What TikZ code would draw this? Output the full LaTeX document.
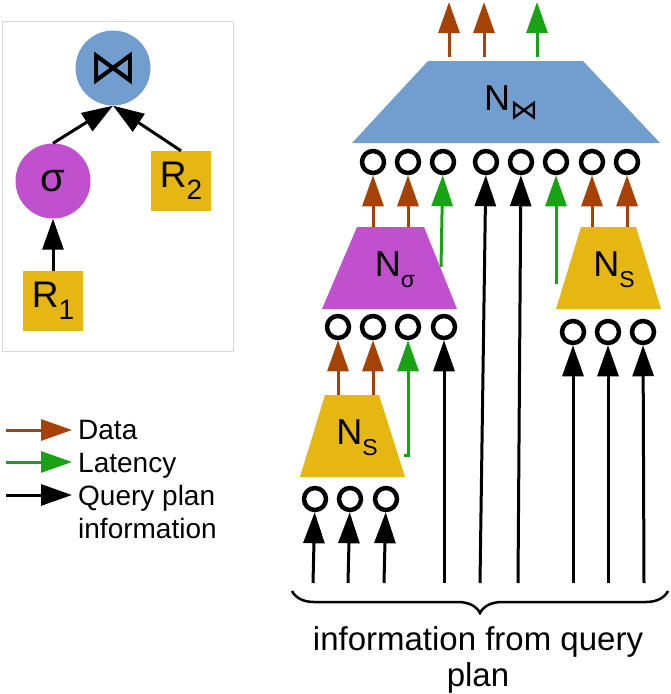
\documentclass[tikz,border=0pt]{standalone}
\usepackage{fontspec}
\setmainfont{Liberation Sans}
\newfontfamily\dvfont{DejaVu Sans}
\usetikzlibrary{arrows.meta,decorations.pathreplacing}
\definecolor{cblue}{RGB}{114,158,207}
\definecolor{cpurple}{RGB}{192,80,206}
\definecolor{cgold}{RGB}{230,182,18}
\definecolor{cdata}{RGB}{166,66,5}
\definecolor{clat}{RGB}{25,163,20}
\definecolor{cframe}{RGB}{218,218,218}
\newcommand{\lowsub}[3]{\raisebox{-#1}{\fontsize{#2}{#2}\selectfont #3}}
\begin{document}
\begin{tikzpicture}[x=1pt,y=-1pt,
  tip/.style={-{Triangle[width=21pt,length=31pt]}},
  dataarrow/.style={tip, draw=cdata, line width=3pt},
  latarrow/.style={tip, draw=clat, line width=3pt},
  qarrow/.style={tip, draw=black, line width=3pt},
  ring/.style={circle, draw=black, line width=4.5pt, minimum size=22pt, inner sep=0pt},
  opcircle/.style={circle, minimum size=75pt, inner sep=0pt},
  relbox/.style={rectangle, fill=cgold, minimum size=60pt, inner sep=0pt, font=\fontsize{37}{37}\selectfont},
  lbl/.style={inner sep=0pt, font=\fontsize{36}{36}\selectfont},
  txt/.style={inner sep=0pt, font=\fontsize{28}{33}\selectfont},
]
\useasboundingbox (0,0) rectangle (671,694);

% ---------- left panel: query plan tree ----------
\node[draw=cframe, line width=1pt, minimum width=231pt, minimum height=330pt, inner sep=0pt] (frame) at (117.5,186) {};
\node[opcircle, fill=cblue] (join) at (113,68) {\fontsize{48}{48}\selectfont\dvfont ⋈};
\node[opcircle, fill=cpurple] (sig) at (53,181) {\fontsize{40}{40}\selectfont σ};
\node[relbox] (R2) at (181,181) {R\lowsub{12pt}{28}{2}};
\node[relbox] (R1) at (53,301) {R\lowsub{12pt}{28}{1}};
\draw[qarrow] (sig.north) -- (join.south);
\draw[qarrow] (R2.north) -- (join.south);
\draw[qarrow] (R1.north) -- (sig.south);

% ---------- legend ----------
\coordinate (l1a) at (6,430);  \coordinate (l1b) at (72,430);
\coordinate (l2a) at (6,462);  \coordinate (l2b) at (72,462);
\coordinate (l3a) at (6,495);  \coordinate (l3b) at (72,495);
\draw[dataarrow] (l1a) -- (l1b);
\draw[latarrow] (l2a) -- (l2b);
\draw[qarrow] (l3a) -- (l3b);
\node[txt, anchor=base west] (tdata) at (78,439) {Data};
\node[txt, anchor=base west] (tlat) at (78,472) {Latency};
\node[txt, anchor=base west, align=left] (tq) at (78,538) {Query plan\\information};

% ---------- right panel: operator network ----------
\fill[cblue] (352,143) -- (428,61) -- (583,61) -- (660,143) -- cycle;
\coordinate (NJtop) at (506,61);
\node[lbl] (NJl) at (511,103) {N\lowsub{9pt}{28}{\dvfont ⋈}};
\fill[cpurple] (322,309) -- (357,227) -- (424,227) -- (457,309) -- cycle;
\coordinate (Nsigtop) at (390,227);
\node[lbl] (Nsigl) at (395,270) {N\lowsub{11pt}{23}{σ}};
\fill[cgold] (556,309) -- (581,227) -- (636,227) -- (661,309) -- cycle;
\coordinate (NS2top) at (608,227);
\node[lbl] (NS2l) at (614,270) {N\lowsub{11pt}{23}{S}};
\fill[cgold] (300,477) -- (325,395) -- (379,395) -- (405,477) -- cycle;
\coordinate (NS1top) at (352,395);
\node[lbl] (NS1l) at (357,438) {N\lowsub{11pt}{23}{S}};

% rings under the join operator
\foreach \i/\x in {1/373,2/408,3/443,4/486,5/521,6/556,7/592,8/627}
  \node[ring] (a\i) at (\x,162) {};
% rings under the selection operator
\foreach \i/\x in {1/338,2/373,3/408,4/444}
  \node[ring] (b\i) at (\x,327) {};
% rings under the right scan
\foreach \i/\x in {1/573,2/608,3/643}
  \node[ring] (c\i) at (\x,332) {};
% rings under the left scan
\foreach \i/\x in {1/315,2/350,3/386}
  \node[ring] (d\i) at (\x,499) {};

% outputs of the join
\coordinate (o1s) at (449,57); \coordinate (o1e) at (449,2);
\coordinate (o2s) at (484,57); \coordinate (o2e) at (484,2);
\coordinate (o3s) at (537,57); \coordinate (o3e) at (537,2);
\draw[dataarrow] (o1s) -- (o1e);
\draw[dataarrow] (o2s) -- (o2e);
\draw[latarrow] (o3s) -- (o3e);

% into the join rings
\draw[dataarrow] (a1 |- Nsigtop) -- (a1);
\draw[dataarrow] (a2 |- Nsigtop) -- (a2);
\coordinate (g1) at (441,267);
\draw[latarrow] (g1) -- (a3);
\coordinate (q4) at (480,583);
\coordinate (q5) at (518,583);
\draw[qarrow] (q4) -- (a4);
\draw[qarrow] (q5) -- (a5);
\coordinate (g2) at (556,284);
\draw[latarrow] (g2) -- (a6);
\draw[dataarrow] (a7 |- NS2top) -- (a7);
\draw[dataarrow] (a8 |- NS2top) -- (a8);

% into the selection rings
\draw[dataarrow] (b1 |- NS1top) -- (b1);
\draw[dataarrow] (b2 |- NS1top) -- (b2);
\coordinate (g3) at (404,455);
\draw[latarrow] (g3) -| (b3);
\coordinate (q6) at (444,583);
\draw[qarrow] (q6) -- (b4);

% into the right scan rings
\foreach \i/\x in {1/573,2/608,3/644}{
  \coordinate (qc\i) at (\x,583);
  \draw[qarrow] (qc\i) -- (c\i);
}
% into the left scan rings
\foreach \i/\x in {1/313,2/348,3/384}{
  \coordinate (qd\i) at (\x,583);
  \draw[qarrow] (qd\i) -- (d\i);
}

% brace and caption
\coordinate (br) at (668,591);
\coordinate (bl) at (292,591);
\draw[decorate, decoration={brace, amplitude=22pt}, line width=2.5pt] (br) -- (bl);
\node[txt, font=\fontsize{33}{36}\selectfont, align=center, anchor=base] (cap) at (478,686) {information from query\\plan};
\end{tikzpicture}
\end{document}
